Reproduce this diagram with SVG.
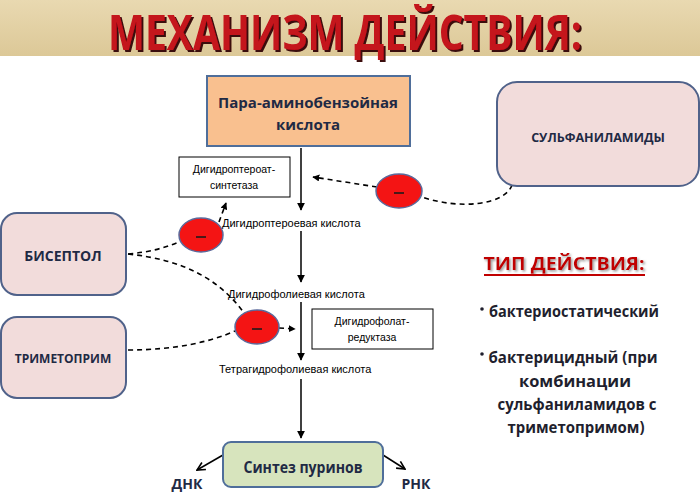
<svg xmlns="http://www.w3.org/2000/svg" width="700" height="495" viewBox="0 0 700 495">
<defs>
<linearGradient id="parch" x1="0" y1="0" x2="0" y2="1">
<stop offset="0" stop-color="#e9d9b1"/>
<stop offset="1" stop-color="#dcc897"/>
</linearGradient>
<filter id="shTitle" x="-5%" y="-20%" width="110%" height="140%">
<feDropShadow dx="2" dy="2" stdDeviation="0.6" flood-color="#3a0a0a" flood-opacity="1"/>
</filter>
<filter id="shSub" x="-5%" y="-20%" width="110%" height="140%">
<feDropShadow dx="1.5" dy="1.5" stdDeviation="0.8" flood-color="#999" flood-opacity="1"/>
</filter>
<marker id="ah" viewBox="0 0 10 10" refX="9" refY="5" markerWidth="8" markerHeight="8" markerUnits="userSpaceOnUse" orient="auto">
<path d="M0,0 L10,5 L0,10 z" fill="#000"/>
</marker>
<marker id="ahs" viewBox="0 0 10 10" refX="9" refY="5" markerWidth="7" markerHeight="7" markerUnits="userSpaceOnUse" orient="auto">
<path d="M0,0 L10,5 L0,10 z" fill="#000"/>
</marker>
<marker id="open" viewBox="0 0 10 10" refX="9" refY="5" markerWidth="10" markerHeight="10" markerUnits="userSpaceOnUse" orient="auto">
<path d="M1,1 L9,5 L1,9" fill="none" stroke="#000" stroke-width="1.6"/>
</marker>
</defs>
<style>
.drug{fill:#f2dcdb;stroke:#50628a;stroke-width:2}
.drugt{font-family:"Open Sans","Liberation Sans",sans-serif;font-weight:bold;fill:#1f2a44;text-anchor:middle}
.enz{fill:#fff;stroke:#000;stroke-width:1}
.small{font-family:"Liberation Sans",Arial,sans-serif;font-size:11px;fill:#000}
.smallc{font-family:"Liberation Sans",Arial,sans-serif;font-size:10.5px;fill:#000;text-anchor:middle}
.bub{fill:#f41414;stroke:#5b6a9c;stroke-width:1.5}
.minus{stroke:#4a1818;stroke-width:2}
.line{stroke:#000;stroke-width:1.5;fill:none}
.dash{stroke:#000;stroke-width:1.6;fill:none;stroke-dasharray:5,4}
.rt{font-family:"Open Sans","Liberation Sans",sans-serif;font-weight:bold;font-size:16px;fill:#1f1f2e;text-anchor:middle}
</style>
<rect x="0" y="0" width="700" height="56" fill="url(#parch)"/>
<g id="title">
<text x="345" y="50" font-family="Open Sans,Liberation Sans,sans-serif" font-weight="bold" font-size="48" text-anchor="middle" fill="#c4121a" textLength="474" lengthAdjust="spacingAndGlyphs" filter="url(#shTitle)">МЕХАНИЗМ ДЕЙСТВИЯ:</text>
</g>
<g id="connectors">
<line class="line" x1="301" y1="148" x2="301" y2="210" marker-end="url(#ah)"/>
<line class="line" x1="301" y1="231" x2="301" y2="282" marker-end="url(#ah)"/>
<line class="line" x1="301" y1="302" x2="301" y2="360" marker-end="url(#ah)"/>
<line class="line" x1="301" y1="379" x2="301" y2="438" marker-end="url(#ah)"/>
<path class="dash" d="M512,185 C505,205 460,210 422,197"/>
<path class="dash" d="M377,187 L313,177" marker-end="url(#ahs)"/>
<path class="dash" d="M128,254 C150,252 165,248 181,241"/>
<path class="dash" d="M219,222 L226,203" marker-end="url(#ahs)"/>
<path class="dash" d="M128,254 C185,260 220,280 244,313"/>
<path class="dash" d="M128,350 C175,350 210,342 235,331"/>
<path class="dash" d="M279,328 L295,329" marker-end="url(#ahs)"/>
<line class="line" x1="223" y1="455" x2="197" y2="470" marker-end="url(#open)"/>
<line class="line" x1="383" y1="455" x2="405" y2="469" marker-end="url(#open)"/>
</g>
<g id="paba">
<rect x="207" y="76" width="203" height="70" fill="#f9c08f" stroke="#4f6e9a" stroke-width="2"/>
<text x="308" y="108" class="drugt" font-size="15" fill="#222">Пара-аминобензойная</text>
<text x="308" y="130" class="drugt" font-size="15" fill="#222">кислота</text>
</g>
<g id="synthetase">
<rect class="enz" x="179" y="157" width="111" height="40"/>
<text class="smallc" x="234" y="173">Дигидроптероат-</text>
<text class="smallc" x="234" y="189">синтетаза</text>
</g>
<g id="reductase">
<rect class="enz" x="312" y="309" width="121" height="40"/>
<text class="smallc" x="372" y="325">Дигидрофолат-</text>
<text class="smallc" x="372" y="341">редуктаза</text>
</g>
<g id="dhp"><text class="small" x="222" y="227">Дигидроптероевая кислота</text></g>
<g id="dhf"><text class="small" x="228" y="298">Дигидрофолиевая кислота</text></g>
<g id="thf"><text class="small" x="219" y="373">Тетрагидрофолиевая кислота</text></g>
<g id="sulfa">
<rect class="drug" x="497" y="82" width="202" height="104" rx="20"/>
<text class="drugt" x="598" y="142" font-size="12.5">СУЛЬФАНИЛАМИДЫ</text>
</g>
<g id="biseptol">
<rect class="drug" x="1" y="213" width="125" height="82" rx="16"/>
<text class="drugt" x="63" y="261" font-size="14">БИСЕПТОЛ</text>
</g>
<g id="trimethoprim">
<rect class="drug" x="1" y="317" width="125" height="81" rx="16"/>
<text class="drugt" x="63" y="363" font-size="12">ТРИМЕТОПРИМ</text>
</g>
<g id="inhib1">
<ellipse class="bub" cx="399" cy="191" rx="23" ry="17"/>
<line class="minus" x1="394" y1="193" x2="404" y2="193"/>
</g>
<g id="inhib2">
<ellipse class="bub" cx="201" cy="235" rx="22" ry="17"/>
<line class="minus" x1="196" y1="237" x2="206" y2="237"/>
</g>
<g id="inhib3">
<ellipse class="bub" cx="257" cy="327" rx="22" ry="17"/>
<line class="minus" x1="252" y1="329" x2="262" y2="329"/>
</g>
<g id="purine">
<rect x="223" y="442" width="160" height="45" rx="8" fill="#d7e4bd" stroke="#4f6e9a" stroke-width="2"/>
<text class="drugt" x="303" y="473" font-size="16" textLength="119" lengthAdjust="spacingAndGlyphs">Синтез пуринов</text>
</g>
<g id="dna"><text class="drugt" x="187" y="489" font-size="14" fill="#111">ДНК</text></g>
<g id="rna"><text class="drugt" x="416" y="489" font-size="14" fill="#111">РНК</text></g>
<g id="action">
<text x="564" y="270" font-family="Open Sans,Liberation Sans,sans-serif" font-weight="bold" font-size="18" text-anchor="middle" fill="#c00000" textLength="161" lengthAdjust="spacingAndGlyphs" filter="url(#shSub)">ТИП ДЕЙСТВИЯ:</text>
<line x1="484" y1="275" x2="645" y2="275" stroke="#c00000" stroke-width="1.8"/>
<circle cx="482" cy="309" r="1.8" fill="#1f1f2e"/>
<text class="rt" x="574" y="317" textLength="170" lengthAdjust="spacingAndGlyphs">бактериостатический</text>
<circle cx="482" cy="354" r="1.8" fill="#1f1f2e"/>
<text class="rt" x="573" y="363" textLength="169" lengthAdjust="spacingAndGlyphs">бактерицидный (при</text>
<text class="rt" x="575" y="387" textLength="112" lengthAdjust="spacingAndGlyphs">комбинации</text>
<text class="rt" x="577" y="410" textLength="159" lengthAdjust="spacingAndGlyphs">сульфаниламидов с</text>
<text class="rt" x="576" y="433" textLength="137" lengthAdjust="spacingAndGlyphs">триметопримом)</text>
</g>
</svg>
